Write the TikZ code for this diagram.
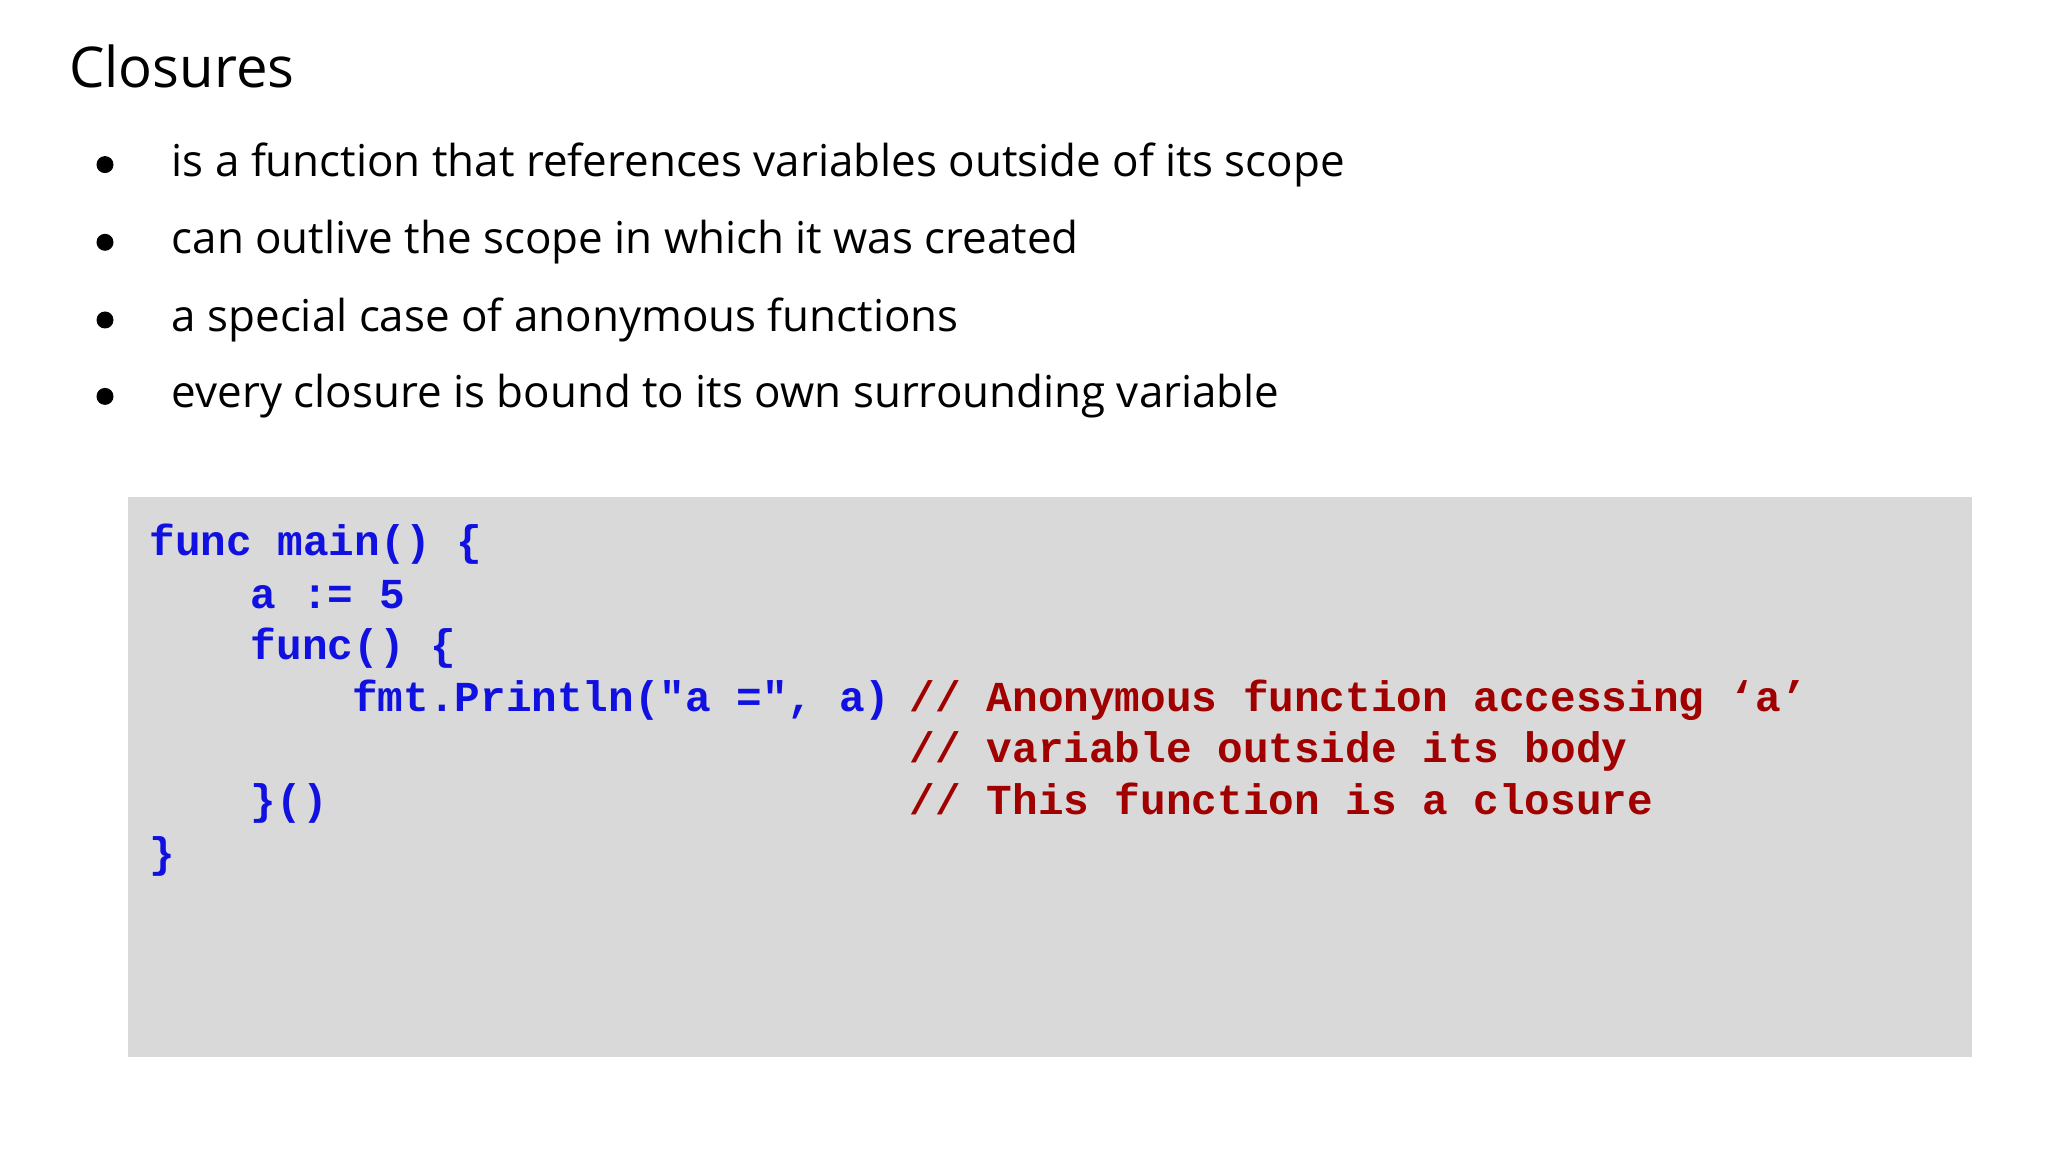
\documentclass[tikz,border=0pt]{standalone}
\usepackage{fontspec}
\setmainfont{Open Sans}
\setmonofont{Liberation Mono}
\definecolor{cblue}{RGB}{16,16,224}
\definecolor{cred}{RGB}{160,0,0}
\definecolor{boxgray}{RGB}{217,217,217}
\begin{document}
\begin{tikzpicture}[x=1cm,y=1cm,
  bul/.style={anchor=west,inner sep=0pt,font=\fontsize{12.5pt}{15pt}\selectfont},
  dot/.style={circle,fill=black,inner sep=0pt,minimum size=0.17cm},
  code/.style={anchor=base west,inner sep=0pt,font=\fontsize{12.15pt}{14pt}\selectfont\ttfamily\bfseries},
  cb/.style={code,text=cblue}, cr/.style={code,text=cred}]
\useasboundingbox[fill=white] (0,0) rectangle (20.48,-11.52);
\node[anchor=west,inner sep=0pt,font=\fontsize{16pt}{19pt}\selectfont] (title) at (0.685,-0.66) {Closures};
\foreach \y/\t [count=\i] in {1.646/{is a function that references variables outside of its scope},
  2.423/{can outlive the scope in which it was created},
  3.20/{a special case of anonymous functions},
  3.964/{every closure is bound to its own surrounding variable}}{
  \node[dot] (d\i) at (1.05,-\y) {};
  \node[bul] (b\i) at (1.71,-\y) {\t};
}
\node[fill=boxgray,minimum width=18.44cm,minimum height=5.595cm,anchor=north west,inner sep=0pt] (box) at (1.277,-4.965) {};
\def\cx#1{1.488+#1*0.2535}
\node[cb] (l1) at ({\cx{0}},-5.56) {func main() \{};
\node[cb] (l2) at ({\cx{4}},-6.08) {a := 5};
\node[cb] (l3) at ({\cx{4}},-6.60) {func() \{};
\node[cb] (l4) at ({\cx{8}},-7.11) {fmt.Println("a =", a)};
\node[cr] (c1) at ({\cx{30}},-7.11) {// Anonymous function accessing ‘a’};
\node[cr] (c2) at ({\cx{30}},-7.63) {// variable outside its body};
\node[cb] (l6) at ({\cx{4}},-8.15) {\}()};
\node[cr] (c3) at ({\cx{30}},-8.15) {// This function is a closure};
\node[cb] (l7) at ({\cx{0}},-8.68) {\}};
\end{tikzpicture}
\end{document}
